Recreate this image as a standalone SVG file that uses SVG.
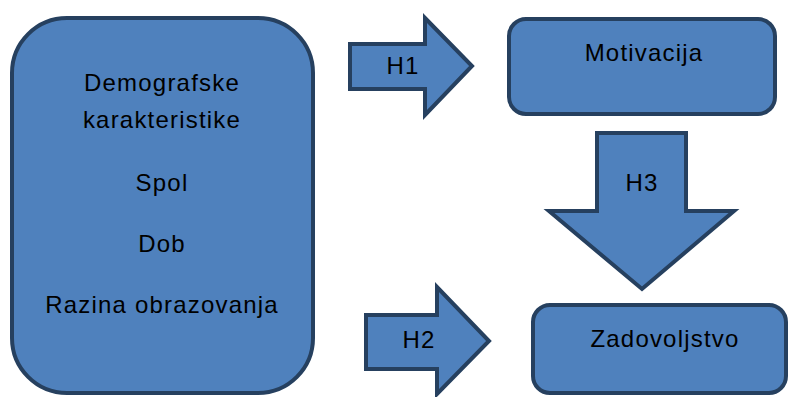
<svg xmlns="http://www.w3.org/2000/svg" width="789" height="397" viewBox="0 0 789 397">
<style>
.s{fill:#4F81BD;stroke:#26405F;stroke-width:4;stroke-linejoin:miter}
.t{font-family:"Liberation Sans",Arial,sans-serif;font-size:24px;fill:#000;text-anchor:middle;letter-spacing:1.2px}
</style>
<rect width="789" height="397" fill="#fff"/>
<g id="demografija">
<rect class="s" x="12" y="18" width="301" height="375" rx="55" ry="55"/>
<text class="t" x="162" y="91">Demografske</text>
<text class="t" x="162" y="128">karakteristike</text>
<text class="t" x="162" y="191">Spol</text>
<text class="t" x="162" y="252">Dob</text>
<text class="t" x="162" y="313">Razina obrazovanja</text>
</g>
<g id="motivacija">
<rect class="s" x="509" y="19" width="266" height="95" rx="17" ry="17"/>
<text class="t" x="644" y="61">Motivacija</text>
</g>
<g id="zadovoljstvo">
<rect class="s" x="533" y="305" width="253" height="88" rx="17" ry="17"/>
<text class="t" x="665" y="347">Zadovoljstvo</text>
</g>
<g id="connectors">
<g id="h1">
<polygon class="s" points="350,44 425,44 425,18 472,66 425,115 425,89 350,89"/>
<text class="t" x="403" y="74">H1</text>
</g>
<g id="h2">
<polygon class="s" points="366,315 437,315 437,287 489,341 437,394 437,369 366,369"/>
<text class="t" x="419" y="348">H2</text>
</g>
<g id="h3">
<polygon class="s" points="597,133 686,133 686,211 734,211 642,289 549,211 597,211"/>
<text class="t" x="642" y="191">H3</text>
</g>
</g>
</svg>
